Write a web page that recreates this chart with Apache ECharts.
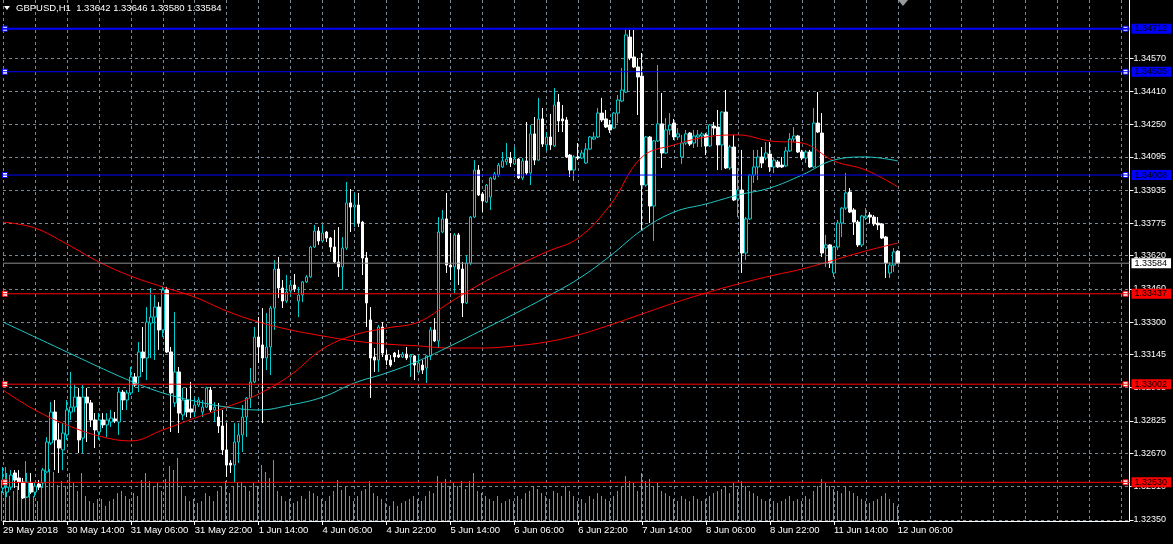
<!DOCTYPE html>
<html><head><meta charset="utf-8">
<script src="https://cdn.jsdelivr.net/npm/echarts@6/dist/echarts.min.js"></script>
<style>html,body{margin:0;padding:0;background:#000;}#c{width:1173px;height:544px;}</style>
</head><body><div id="c"></div>
<script>
const symbolName = 'GBPUSD,H1';
const xTickLabels = ['29 May 2018','30 May 14:00','31 May 06:00','31 May 22:00','1 Jun 14:00','4 Jun 06:00','4 Jun 22:00','5 Jun 14:00','6 Jun 06:00','6 Jun 22:00','7 Jun 14:00','8 Jun 06:00','8 Jun 22:00','11 Jun 14:00','12 Jun 06:00'];
const yTickLabels = ['1.32350','1.32510','1.32670','1.32825','1.32985','1.33145','1.33300','1.33460','1.33620','1.33775','1.33935','1.34095','1.34250','1.34410','1.34570'];

const open = [
1.32503,1.32483,1.32507,1.32575,1.32551,1.32531,1.32459,1.32527,1.32483,1.32522,
1.32527,1.32580,1.32719,1.32868,1.32734,1.32686,1.32758,1.32868,1.32892,1.32940,
1.32743,1.32940,1.32912,1.32830,1.32772,1.32830,1.32806,1.32820,1.32835,1.32820,
1.32964,1.32926,1.32960,1.33037,1.33037,1.33157,1.33128,1.33296,1.33325,1.33373,
1.33263,1.33455,1.33157,1.32912,1.33061,1.32854,1.32926,1.32883,1.32868,1.32902,
1.32868,1.32892,1.32974,1.32878,1.32844,1.32801,1.32686,1.32623,1.32613,1.32724,
1.32758,1.32844,1.32936,1.33013,1.33229,1.33191,1.33128,1.33181,1.33368,1.33556,
1.33465,1.33402,1.33450,1.33479,1.33402,1.33431,1.33494,1.33518,1.33662,1.33739,
1.33691,1.33734,1.33705,1.33662,1.33590,1.33566,1.33657,1.33874,1.33854,1.33864,
1.33782,1.33609,1.33311,1.33133,1.33118,1.33277,1.33142,1.33118,1.33152,1.33142,
1.33133,1.33147,1.33133,1.33138,1.33061,1.33094,1.33080,1.33138,1.33263,1.33210,
1.33734,1.33797,1.33575,1.33566,1.33720,1.33556,1.33393,1.33585,1.33806,1.34032,
1.33917,1.33878,1.33902,1.33989,1.34008,1.34047,1.34071,1.34090,1.34061,1.34085,
1.33994,1.34076,1.34018,1.34206,1.34080,1.34278,1.34153,1.34191,1.34148,1.34359,
1.34278,1.34273,1.34104,1.34032,1.34095,1.34090,1.34066,1.34133,1.34181,1.34191,
1.34306,1.34278,1.34249,1.34234,1.34306,1.34364,1.34407,1.34672,1.34576,1.34528,
1.34484,1.33960,1.34191,1.33859,1.34172,1.34254,1.34114,1.34225,1.34258,1.34191,
1.34095,1.34162,1.34210,1.34162,1.34191,1.34196,1.34201,1.34148,1.34244,1.34239,
1.34153,1.34311,1.34042,1.34143,1.33893,1.33936,1.33633,1.33797,1.34008,1.34047,
1.34095,1.34090,1.34109,1.34047,1.34071,1.34056,1.34052,1.34124,1.34181,1.34196,
1.34119,1.34090,1.34119,1.34047,1.34258,1.34210,1.33657,1.33672,1.33537,1.33662,
1.33777,1.33849,1.33926,1.33840,1.33782,1.33672,1.33801,1.33816,1.33806,1.33777,
1.33773,1.33710,1.33537,1.33575,1.33642];
const close = [
1.32541,1.32507,1.32565,1.32541,1.32531,1.32455,1.32531,1.32483,1.32512,1.32507,
1.32589,1.32724,1.32868,1.32734,1.32695,1.32767,1.32878,1.32892,1.32940,1.32734,
1.32940,1.32912,1.32830,1.32782,1.32830,1.32806,1.32830,1.32839,1.32825,1.32964,
1.32926,1.32960,1.33037,1.32998,1.33157,1.33128,1.33301,1.33325,1.33373,1.33263,
1.33455,1.33157,1.32960,1.33061,1.32863,1.32926,1.32868,1.32868,1.32902,1.32926,
1.32892,1.32984,1.32878,1.32892,1.32801,1.32686,1.32613,1.32613,1.32724,1.32758,
1.32844,1.32936,1.33013,1.33229,1.33181,1.33128,1.33181,1.33368,1.33556,1.33465,
1.33402,1.33446,1.33479,1.33460,1.33431,1.33494,1.33518,1.33662,1.33739,1.33691,
1.33729,1.33705,1.33662,1.33590,1.33566,1.33657,1.33874,1.33854,1.33864,1.33777,
1.33609,1.33393,1.33128,1.33118,1.33277,1.33152,1.33118,1.33094,1.33133,1.33133,
1.33147,1.33128,1.33142,1.33094,1.33104,1.33070,1.33138,1.33263,1.33210,1.33734,
1.33797,1.33575,1.33566,1.33720,1.33556,1.33393,1.33585,1.33806,1.34032,1.33912,
1.33883,1.33960,1.33994,1.34013,1.34056,1.34076,1.34085,1.34066,1.34085,1.33994,
1.34076,1.34018,1.34206,1.34080,1.34278,1.34157,1.34191,1.34153,1.34345,1.34268,
1.34268,1.34095,1.34032,1.34095,1.34090,1.34114,1.34133,1.34191,1.34191,1.34306,
1.34273,1.34239,1.34225,1.34306,1.34369,1.34417,1.34682,1.34571,1.34528,1.34480,
1.33960,1.34191,1.33859,1.34172,1.34254,1.34114,1.34225,1.34249,1.34191,1.34206,
1.34162,1.34206,1.34157,1.34196,1.34201,1.34206,1.34148,1.34249,1.34234,1.34153,
1.34311,1.34042,1.34143,1.33888,1.33936,1.33633,1.33797,1.34008,1.34047,1.34095,
1.34066,1.34114,1.34047,1.34080,1.34047,1.34047,1.34124,1.34181,1.34196,1.34119,
1.34090,1.34119,1.34047,1.34258,1.34215,1.33633,1.33672,1.33585,1.33662,1.33777,
1.33849,1.33922,1.33830,1.33782,1.33672,1.33811,1.33811,1.33806,1.33773,1.33768,
1.33705,1.33585,1.33575,1.33638,1.33584];
const low = [
1.32479,1.32459,1.32493,1.32503,1.32493,1.32450,1.32455,1.32474,1.32459,1.32493,
1.32503,1.32575,1.32710,1.32589,1.32575,1.32589,1.32734,1.32830,1.32868,1.32671,
1.32671,1.32724,1.32796,1.32695,1.32734,1.32791,1.32748,1.32796,1.32815,1.32758,
1.32878,1.32878,1.32950,1.32989,1.32964,1.33061,1.33022,1.33128,1.33118,1.33167,
1.33229,1.33152,1.32772,1.32892,1.32767,1.32830,1.32844,1.32839,1.32844,1.32892,
1.32844,1.32888,1.32868,1.32820,1.32767,1.32662,1.32556,1.32575,1.32527,1.32623,
1.32676,1.32748,1.32888,1.33008,1.33104,1.32815,1.33070,1.33046,1.33263,1.33417,
1.33368,1.33393,1.33421,1.33446,1.33325,1.33397,1.33489,1.33513,1.33657,1.33672,
1.33686,1.33686,1.33638,1.33585,1.33518,1.33455,1.33648,1.33734,1.33758,1.33758,
1.33527,1.33277,1.32936,1.33061,1.33061,1.33133,1.33094,1.33085,1.33109,1.33128,
1.33128,1.33118,1.33037,1.33022,1.33056,1.33051,1.33008,1.33118,1.33205,1.33176,
1.33729,1.33537,1.33503,1.33441,1.33479,1.33325,1.33388,1.33575,1.33801,1.33907,
1.33830,1.33874,1.33840,1.33984,1.33999,1.34042,1.34056,1.34047,1.34056,1.33989,
1.33984,1.34008,1.33960,1.34056,1.34076,1.34143,1.34124,1.34129,1.34143,1.34215,
1.34215,1.34090,1.33999,1.33979,1.34080,1.34085,1.34061,1.34129,1.34177,1.34186,
1.34263,1.34234,1.34210,1.34230,1.34258,1.34359,1.34403,1.34561,1.34523,1.34297,
1.33744,1.33951,1.33777,1.33691,1.34167,1.34042,1.34109,1.34201,1.34177,1.34177,
1.34061,1.34153,1.34148,1.34138,1.34143,1.34143,1.34104,1.34143,1.34201,1.34032,
1.34032,1.34037,1.34032,1.33883,1.33806,1.33537,1.33599,1.33792,1.33970,1.33984,
1.34042,1.34080,1.34023,1.34018,1.34042,1.34042,1.34047,1.34119,1.34167,1.34114,
1.34080,1.34066,1.34042,1.34042,1.34210,1.33614,1.33566,1.33561,1.33518,1.33648,
1.33710,1.33840,1.33825,1.33720,1.33662,1.33662,1.33792,1.33777,1.33763,1.33744,
1.33700,1.33513,1.33513,1.33542,1.33580];
const high = [
1.32604,1.32575,1.32589,1.32589,1.32589,1.32551,1.32575,1.32575,1.32531,1.32541,
1.32599,1.32748,1.32916,1.32926,1.32815,1.32815,1.32926,1.33061,1.32998,1.32984,
1.32998,1.32984,1.32926,1.32863,1.32863,1.32863,1.32863,1.32878,1.32868,1.32984,
1.32974,1.32974,1.33085,1.33056,1.33205,1.33277,1.33373,1.33465,1.33431,1.33397,
1.33470,1.33470,1.33181,1.33349,1.33085,1.32984,1.32984,1.33013,1.32940,1.32940,
1.32926,1.32989,1.32989,1.32916,1.32912,1.32878,1.32815,1.32637,1.32815,1.32815,
1.32902,1.32940,1.33080,1.33277,1.33325,1.33368,1.33344,1.33378,1.33599,1.33614,
1.33503,1.33527,1.33503,1.33532,1.33470,1.33498,1.33527,1.33667,1.33768,1.33758,
1.33768,1.33739,1.33710,1.33744,1.33758,1.33710,1.33975,1.33941,1.33922,1.33922,
1.33787,1.33638,1.33373,1.33176,1.33287,1.33301,1.33167,1.33142,1.33157,1.33167,
1.33157,1.33181,1.33147,1.33142,1.33142,1.33118,1.33142,1.33277,1.33320,1.33806,
1.33840,1.33922,1.33729,1.33729,1.33729,1.33590,1.33623,1.33811,1.34080,1.34056,
1.33926,1.33965,1.33999,1.34023,1.34066,1.34119,1.34162,1.34119,1.34143,1.34090,
1.34090,1.34263,1.34249,1.34287,1.34379,1.34331,1.34215,1.34302,1.34427,1.34398,
1.34345,1.34287,1.34109,1.34104,1.34162,1.34129,1.34162,1.34196,1.34215,1.34331,
1.34379,1.34321,1.34273,1.34311,1.34393,1.34523,1.34711,1.34706,1.34706,1.34571,
1.34595,1.34196,1.34196,1.34177,1.34537,1.34403,1.34282,1.34306,1.34278,1.34234,
1.34201,1.34225,1.34215,1.34225,1.34225,1.34215,1.34210,1.34254,1.34263,1.34321,
1.34316,1.34417,1.34153,1.34201,1.34042,1.34129,1.33806,1.34013,1.34129,1.34129,
1.34143,1.34167,1.34167,1.34090,1.34080,1.34095,1.34143,1.34210,1.34239,1.34201,
1.34129,1.34129,1.34129,1.34331,1.34407,1.34306,1.33720,1.33676,1.33667,1.33792,
1.33854,1.34018,1.33946,1.33849,1.33792,1.33816,1.33849,1.33830,1.33816,1.33806,
1.33777,1.33715,1.33590,1.33657,1.33646];
const volume = [
3000,5400,2500,3000,3500,3000,6000,3000,2500,2000,3500,4800,5200,4900,3600,4000,
3500,4800,3800,3000,4800,2500,2000,1800,2200,2200,1500,2000,2200,2800,3000,2500,
2200,2800,2500,4100,4800,4000,3500,3800,3000,4200,5500,5100,6300,3500,2500,2000,
2200,1800,2000,2800,2500,2000,3000,3500,4000,2800,3500,3900,3900,3400,3000,3800,
3500,5600,4900,4300,6100,3000,2500,2000,2200,1800,2000,2500,2200,3000,2800,2500,
2200,2000,2500,3000,4100,3100,3500,2500,2000,2500,3000,3200,4000,2800,2500,2200,
1800,1500,2000,1500,1800,2000,2200,2500,2200,2000,2500,3000,2800,4500,3800,4200,
3500,3800,3500,4000,3200,4000,4800,3000,2800,2500,2200,2000,2500,1800,2000,2200,
2000,2500,2200,2800,3000,3500,3200,2800,2500,2200,3000,2800,2500,3500,3000,2500,
2000,2200,1800,2500,2200,2800,2500,2200,2000,2500,3000,3500,4500,4000,3800,3000,
4800,4000,4200,3500,3800,3000,2800,2500,2200,2000,2500,2200,2000,2500,2200,2000,
2200,2500,2800,3000,3200,3500,2800,3800,3200,4000,3500,3000,2800,2500,2200,2000,
2200,2000,1800,2000,2200,2500,2000,2200,2000,2500,2200,3000,3500,4200,3800,3500,
3200,3000,2800,3500,3000,2800,2500,2200,2000,1800,2000,2200,2500,2800,2200,1800,1500];

const maIndex = [0,8,16,24,32,40,48,56,64,72,80,88,96,104,112,120,128,136,144,152,160,168,176,184,192,200,208,216,224];
const maSlowRed = [1.33782,1.33753,1.33676,1.33590,1.33522,1.33470,1.33421,1.33354,1.33301,1.33263,1.33234,1.33210,1.33195,1.33186,1.33176,1.33176,1.33186,1.33205,1.33239,1.33287,1.33340,1.33393,1.33441,1.33484,1.33522,1.33556,1.33599,1.33643,1.33681];
const maFastRed = [1.32974,1.32878,1.32806,1.32753,1.32729,1.32782,1.32839,1.32892,1.32955,1.33046,1.33171,1.33239,1.33272,1.33301,1.33397,1.33489,1.33566,1.33638,1.33705,1.33864,1.34095,1.34153,1.34191,1.34201,1.34172,1.34162,1.34076,1.34032,1.33951];
const maCyan = [1.33301,1.33229,1.33157,1.33085,1.33017,1.32960,1.32921,1.32892,1.32878,1.32902,1.32940,1.33008,1.33056,1.33114,1.33186,1.33263,1.33340,1.33421,1.33508,1.33619,1.33744,1.33830,1.33869,1.33912,1.33946,1.34008,1.34080,1.34095,1.34076];

const levelValues = [1.34712, 1.34505, 1.34008, 1.33437, 1.33002, 1.32530];
const levelColors = ['#0000ff','#0000ff','#0000ff','#ff0000','#ff0000','#ff0000'];
const emptySlots = 58;

const nBars = open.length;
const nCats = nBars + emptySlots;
const cats = [];
for (let i = 0; i < nCats; i++) cats.push(String(i));
const candles = open.map((o, i) => [o, close[i], low[i], high[i]]);
const yTickValues = yTickLabels.map(Number);
const last = nBars - 1;
const fmt = v => v.toFixed(5);
const headerText = symbolName + '  ' + fmt(open[last]) + ' ' + fmt(high[last]) + ' ' + fmt(low[last]) + ' ' + fmt(close[last]);
const lastPrice = close[last];

const FONT = 'Liberation Sans';
const gridColor = '#778899';
const bull = '#00ced1';
const labelInterval = (i) => i % 16 === 0 && i <= last;
const maData = arr => maIndex.map((idx, k) => [idx, arr[k]]);

function levelSeries(v, color, width, labelBg, z) {
  return {
    type: 'line', xAxisIndex: 0, yAxisIndex: 0, z: z, silent: true,
    data: [[0, v], [nCats - 1, v]],
    showSymbol: false, symbol: 'none',
    lineStyle: { color: color, width: width },
    endLabel: { show: true, formatter: () => fmt(v), backgroundColor: labelBg, color: '#000',
                padding: [1, 4, 0, 3], distance: 2, fontSize: 9, fontFamily: FONT },
    labelLayout: { hideOverlap: false }
  };
}

const anchors = [];
levelValues.forEach((v, k) => {
  anchors.push({ coord: [0, v], symbolOffset: [2, 0], itemStyle: { color: '#fff', borderColor: levelColors[k], borderWidth: 1 } });
  anchors.push({ coord: [nCats - 2, v], itemStyle: { color: '#fff', borderColor: levelColors[k], borderWidth: 1 } });
});

const series = [
  {
    name: 'Volumes', type: 'bar', xAxisIndex: 1, yAxisIndex: 1, data: volume,
    barWidth: 1, itemStyle: { color: '#32cd32' }, z: 1
  },
  {
    name: 'GBPUSD', type: 'candlestick', xAxisIndex: 0, yAxisIndex: 0, data: candles, barWidth: 3, z: 2,
    itemStyle: { color: '#000', color0: '#fff', borderColor: bull, borderColor0: '#fff', borderWidth: 1 }
  },
  {
    name: 'MA slow', type: 'line', data: maData(maSlowRed), smooth: 0.4, showSymbol: false, symbol: 'none',
    lineStyle: { color: '#ff0000', width: 1 }, z: 3,
    markPoint: { silent: true, symbol: 'rect', symbolSize: 5, label: { show: false }, data: anchors }
  },
  {
    name: 'MA fast', type: 'line', data: maData(maFastRed), smooth: 0.4, showSymbol: false, symbol: 'none',
    lineStyle: { color: '#ff0000', width: 1 }, z: 3
  },
  {
    name: 'MA mid', type: 'line', data: maData(maCyan), smooth: 0.4, showSymbol: false, symbol: 'none',
    lineStyle: { color: '#20c8c8', width: 1 }, z: 3
  }
];
series.push(levelSeries(lastPrice, '#8c8c8c', 1, '#ffffff', 4));
levelValues.forEach((v, k) => series.push(levelSeries(v, levelColors[k], k === 0 ? 2 : 1, levelColors[k], 5)));

const chart = echarts.init(document.getElementById('c'), null, { renderer: 'canvas' });
chart.setOption({
  backgroundColor: '#000',
  animation: false,
  textStyle: { fontFamily: FONT },
  grid: [
    { left: 1.5, right: 43.5, top: 0, bottom: 23 },
    { left: 1.5, right: 43.5, bottom: 23, height: 100 }
  ],
  xAxis: [
    {
      type: 'category', data: cats, boundaryGap: false, gridIndex: 0,
      axisLine: { show: true, lineStyle: { color: '#fff', width: 1 } },
      axisTick: { show: true, interval: labelInterval, length: 4, lineStyle: { color: '#fff' } },
      axisLabel: { show: true, interval: labelInterval, formatter: (v, i) => xTickLabels[i / 16],
                   align: 'left', color: '#fff', fontSize: 9.5, fontFamily: FONT, margin: 4 },
      splitLine: { show: true, interval: (i) => i % 8 === 0, lineStyle: { color: gridColor, type: [3, 3], width: 1 } }
    },
    { type: 'category', data: cats, boundaryGap: false, gridIndex: 1, show: false }
  ],
  yAxis: [
    {
      type: 'value', position: 'right', gridIndex: 0, min: 1.32344, max: 1.34850,
      axisLine: { show: true, lineStyle: { color: '#fff' } },
      axisTick: { show: true, length: 4, customValues: yTickValues, lineStyle: { color: '#fff' } },
      axisLabel: { show: true, customValues: yTickValues, formatter: v => fmt(v), color: '#fff',
                   fontSize: 9, fontFamily: FONT, margin: 4 },
      splitLine: { show: true, customValues: yTickValues, lineStyle: { color: gridColor, type: [3, 3], width: 1 } }
    },
    { type: 'value', gridIndex: 1, min: 0, max: 10000, show: false }
  ],
  graphic: [
    { type: 'polygon', shape: { points: [[4, 6], [10, 6], [7, 10]] }, style: { fill: '#fff' }, z: 100 },
    { type: 'text', left: 16, top: 3, style: { text: headerText, fill: '#fff', font: '9.5px "Liberation Sans"' }, z: 100 },
    { type: 'polygon', shape: { points: [[898, 0], [908, 0], [903, 6]] }, style: { fill: '#9a9a9a' }, z: 100 }
  ],
  series: series
});
</script>
</body></html>
